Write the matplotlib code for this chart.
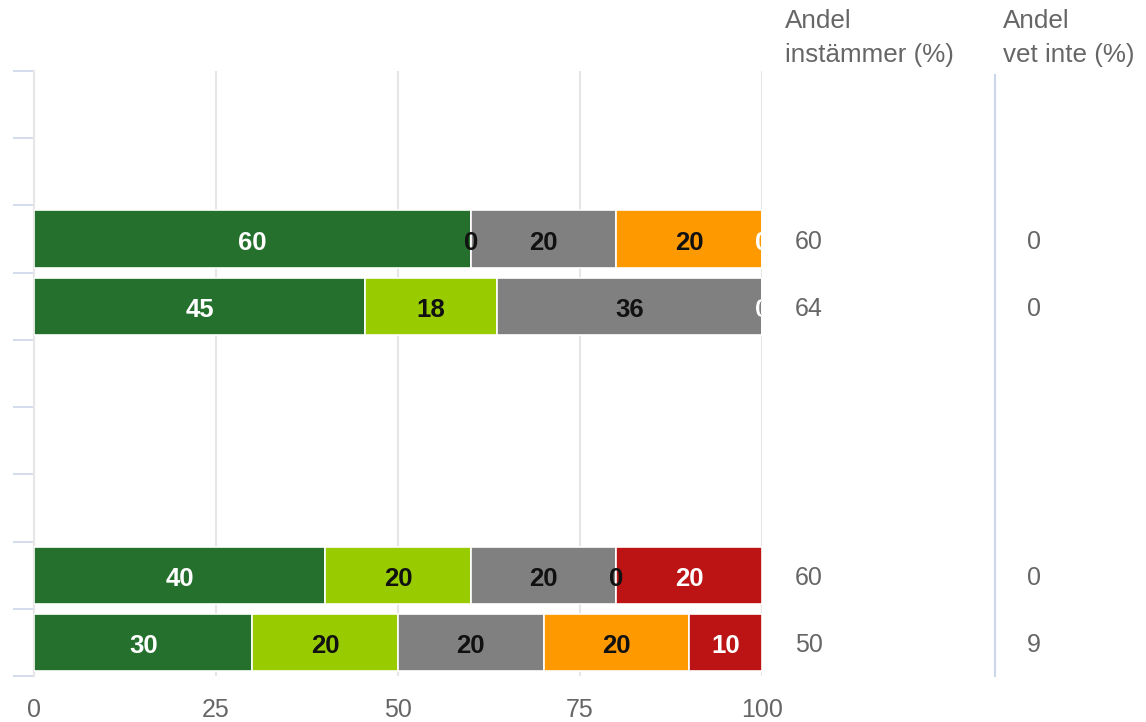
import numpy as np
import matplotlib
matplotlib.use("Agg")
import matplotlib.pyplot as plt
from matplotlib.lines import Line2D

plt.rcParams['font.family'] = ['Liberation Sans', 'DejaVu Sans']

# Rows top to bottom (9 bands; row 5 is a blank separator)
n_rows = 9
dark_green = [np.nan, np.nan, 60, 45.45, np.nan, np.nan, np.nan, 40, 30]
light_green = [np.nan, np.nan, 0, 18.18, np.nan, np.nan, np.nan, 20, 20]
grey = [np.nan, np.nan, 20, 36.36, np.nan, np.nan, np.nan, 20, 20]
orange = [np.nan, np.nan, 20, 0, np.nan, np.nan, np.nan, 0, 20]
red = [np.nan, np.nan, 0, 0, np.nan, np.nan, np.nan, 20, 10]
andel_instammer = [None, None, 60, 64, None, None, None, 60, 50]
andel_vet_inte = [None, None, 0, 0, None, None, None, 0, 9]
x_ticks = [0, 25, 50, 75, 100]
header_1 = ["Andel", "instämmer (%)"]
header_2 = ["Andel", "vet inte (%)"]

series = [
    (dark_green, '#25702d', 'white'),
    (light_green, '#99cc00', '#111111'),
    (grey, '#808080', '#111111'),
    (orange, '#ff9900', '#111111'),
    (red, '#bc1414', 'white'),
]

W, H = 1146, 722
PX = 72 / 100  # points per pixel
fig = plt.figure(figsize=(W / 100, H / 100), dpi=100)
ax_left, ax_right, ax_top, ax_bottom = 34, 762, 71, 676
ax = fig.add_axes([ax_left / W, 1 - ax_bottom / H, (ax_right - ax_left) / W, (ax_bottom - ax_top) / H])

y = np.arange(n_rows)
left = np.zeros(n_rows)
bar_h = 0.85
for vals, col, tcol in series:
    v = np.array(vals, dtype=float)
    mask = ~np.isnan(v)
    ax.barh(y[mask], v[mask], left=left[mask], height=bar_h, color=col,
            edgecolor='white', linewidth=1.2, zorder=3)
    for yi, vi, li in zip(y[mask], v[mask], left[mask]):
        ax.annotate(f"{vi:.0f}", (li + vi / 2, yi), xytext=(0, -11 * PX),
                    textcoords='offset points', ha='center', va='baseline',
                    fontsize=18.5, fontweight='bold', color=tcol, zorder=5,
                    annotation_clip=False, clip_on=True)
    left[mask] += v[mask]

ax.set_xlim(0, 100)
ax.set_ylim(n_rows - 0.5, -0.5)
ax.set_xticks(x_ticks)
ax.set_xticklabels([str(t) for t in x_ticks])
for lbl in ax.get_xticklabels():
    lbl.set_va('baseline')
ax.set_yticks(np.arange(-0.5, n_rows, 1.0))
ax.set_yticklabels([])
ax.tick_params(axis='y', length=21 * PX, width=1.2, color='#ccd6eb')
ax.tick_params(axis='x', length=0, labelsize=18, labelcolor='#666666', pad=(717 - 676) * PX)
for s in ['top', 'right', 'bottom']:
    ax.spines[s].set_visible(False)
ax.spines['left'].set_color('#e6e6e6')
ax.spines['left'].set_linewidth(1.5)
ax.grid(axis='x', color='#e6e6e6', linewidth=1.5, zorder=0)
ax.set_axisbelow(True)

# Right-hand column headers
for x0, lines in [(785, header_1), (1003, header_2)]:
    for base, txt in zip([28, 62], lines):
        fig.text(x0 / W, 1 - base / H, txt, ha='left', va='baseline',
                 fontsize=18.7, color='#666666')

for yi, (a, b) in enumerate(zip(andel_instammer, andel_vet_inte)):
    if a is None:
        continue
    for x0, val in [(795, a), (1027, b)]:
        ax.annotate(str(val), (1, yi), xycoords=('axes fraction', 'data'),
                    xytext=((x0 - ax_right) * PX, -10 * PX), textcoords='offset points',
                    ha='left', va='baseline', fontsize=18, color='#666666',
                    annotation_clip=False)

# separator line for the right column
fig.add_artist(Line2D([995 / W, 995 / W], [1 - 75 / H, 1 - 676 / H], color='#ccd6eb', linewidth=1.5))

fig.savefig('out.png', dpi=100)
